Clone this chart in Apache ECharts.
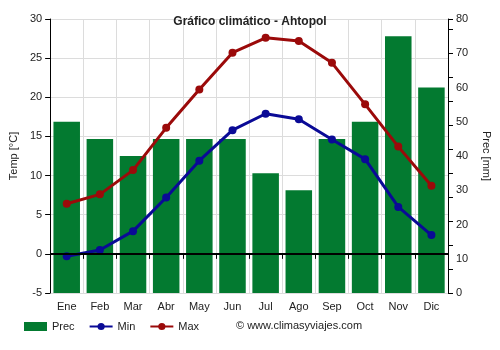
<!DOCTYPE html>
<html>
<head>
<meta charset="utf-8">
<script src="https://cdn.jsdelivr.net/npm/echarts@6/dist/echarts.min.js"></script>
<style>html,body{margin:0;padding:0;background:#fff}#c{width:500px;height:350px}</style>
</head>
<body>
<div id="c"></div>
<script>
const months = ['Ene','Feb','Mar','Abr','May','Jun','Jul','Ago','Sep','Oct','Nov','Dic'];
const prec = [50, 45, 40, 45, 45, 45, 35, 30, 45, 50, 75, 60];
const tMin = [-0.3, 0.5, 2.9, 7.2, 11.9, 15.8, 17.9, 17.2, 14.6, 12.1, 6.0, 2.4];
const tMax = [6.4, 7.6, 10.7, 16.1, 21.0, 25.7, 27.6, 27.2, 24.4, 19.1, 13.7, 8.7];

const font = 'Liberation Sans, Arial, sans-serif';
const chart = echarts.init(document.getElementById('c'), null, {renderer: 'canvas'});
chart.setOption({
  animation: false,
  textStyle: {fontFamily: font},
  title: {
    text: 'Gráfico climático - Ahtopol', left: 'center', top: 11,
    textStyle: {fontSize: 12, fontWeight: 'bold', color: '#222', fontFamily: font}
  },
  legend: {
    left: 19, top: 316, itemGap: 14, itemWidth: 23, itemHeight: 9,
    textStyle: {fontSize: 11, color: '#222', fontFamily: font},
    data: [
      {name: 'Prec', icon: 'rect'},
      {name: 'Min'},
      {name: 'Max'}
    ]
  },
  graphic: [{
    type: 'text', left: 236, top: 320,
    style: {text: '© www.climasyviajes.com', font: '11px ' + font, fill: '#222'}
  }],
  grid: {left: 49, right: 50, top: 19, bottom: 57},
  xAxis: {
    type: 'category', data: months,
    axisLine: {lineStyle: {color: '#000'}},
    axisTick: {show: true, alignWithLabel: false, lineStyle: {color: '#000'}},
    axisLabel: {color: '#222', fontSize: 11, margin: 8},
    splitLine: {show: true, lineStyle: {color: '#dcdcdc'}}
  },
  yAxis: [{
    type: 'value', min: -5, max: 30, interval: 5, position: 'left',
    name: 'Temp [°C]', nameLocation: 'middle', nameGap: 31, nameRotate: 90,
    nameTextStyle: {fontSize: 11, color: '#222'},
    axisLine: {show: true, lineStyle: {color: '#000'}},
    axisTick: {show: true, lineStyle: {color: '#000'}},
    axisLabel: {color: '#222', fontSize: 11},
    splitLine: {show: true, lineStyle: {color: '#dcdcdc'}}
  }, {
    type: 'value', min: 0, max: 80, interval: 10, position: 'right',
    name: 'Prec [mm]', nameLocation: 'middle', nameGap: 33, nameRotate: -90,
    nameTextStyle: {fontSize: 11, color: '#222'},
    axisLine: {show: true, lineStyle: {color: '#000'}},
    axisTick: {show: false},
    axisLabel: {color: '#222', fontSize: 11},
    splitLine: {show: false}
  }, {
    type: 'value', min: 0, max: 80, interval: 7, position: 'right',
    axisLine: {show: false},
    axisTick: {show: true, lineStyle: {color: '#000'}},
    axisLabel: {show: false},
    splitLine: {show: false}
  }],
  series: [{
    name: 'Prec', type: 'bar', yAxisIndex: 1, data: prec,
    barCategoryGap: '20%',
    itemStyle: {color: '#037a30'}
  }, {
    name: 'Min', type: 'line', yAxisIndex: 0, data: tMin,
    symbol: 'circle', symbolSize: 8,
    lineStyle: {width: 3, color: '#0a0a96'}, itemStyle: {color: '#0a0a96'},
    markLine: {
      silent: true, symbol: 'none', label: {show: false},
      lineStyle: {color: '#000', width: 2, type: 'solid'},
      data: [{yAxis: 0}]
    }
  }, {
    name: 'Max', type: 'line', yAxisIndex: 0, data: tMax,
    symbol: 'circle', symbolSize: 8,
    lineStyle: {width: 3, color: '#9b0a0a'}, itemStyle: {color: '#9b0a0a'}
  }]
});
</script>
</body>
</html>
